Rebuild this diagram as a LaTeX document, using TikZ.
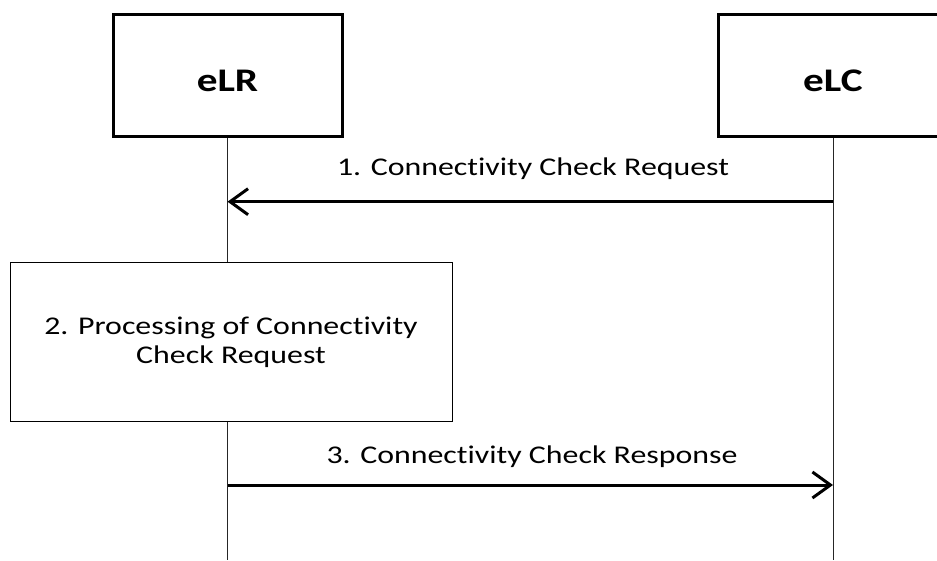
\documentclass[tikz,border=0pt]{standalone}
\usepackage{fontspec}
\setmainfont{Carlito}[FakeStretch=1.25, Ligatures=NoCommon]
\usetikzlibrary{arrows.meta}

\begin{document}
\begin{tikzpicture}[x=1pt,y=1pt,
	entity/.style={draw, line width=3pt, minimum width=229pt, minimum height=122pt,
		text height=32pt, text depth=0pt, font=\fontsize{33}{38}\selectfont\bfseries},
	procbox/.style={draw, fill=white, line width=1pt, minimum width=442pt, minimum height=158pt,
		align=center, font=\fontsize{25.5}{29}\selectfont},
	lifeline/.style={line width=1pt, black!85},
	msg/.style={line width=3pt, -{Straight Barb[length=18pt,width=26pt]}},
	msglabel/.style={anchor=base, inner sep=0pt, font=\fontsize{25.5}{29}\selectfont}]
	\useasboundingbox (0,0) rectangle (937,560);

	%% Entities (eLC runs off the right edge)
	\node[entity] (elr) at (227.5,484) {eLR};
	\node[entity] (elc) at (833,484) {eLC};

	%% Lifelines
	\coordinate (elrEnd) at (227.5,0);
	\coordinate (elcEnd) at (833,0);
	\draw[lifeline] (elr.south) -- (elrEnd);
	\draw[lifeline] (elc.south) -- (elcEnd);

	% 1. request from eLC to eLR
	\coordinate (reqFrom) at (833,358.3);
	\coordinate (reqTo) at (227.5,358.3);
	\draw[msg] (reqFrom) -- (reqTo);
	\node[msglabel] (reqLabel) at (533,384) {1. Connectivity Check Request};

	% 2. processing at eLR
	\node[procbox] (proc) at (231,218) {2. Processing of Connectivity\\Check Request};

	% 3. response from eLR to eLC
	\coordinate (rspFrom) at (227.5,75);
	\coordinate (rspTo) at (833,75);
	\draw[msg] (rspFrom) -- (rspTo);
	\node[msglabel] (rspLabel) at (532,97) {3. Connectivity Check Response};
\end{tikzpicture}
\end{document}
